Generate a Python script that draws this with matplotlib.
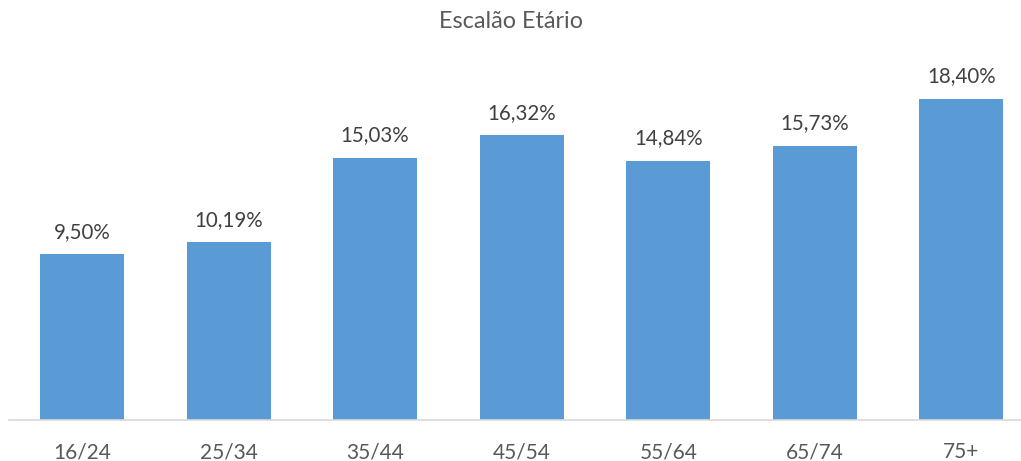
import matplotlib
matplotlib.use("Agg")
import matplotlib.pyplot as plt

# data
categories = ["16/24", "25/34", "35/44", "45/54", "55/64", "65/74", "75+"]
values = [9.50, 10.19, 15.03, 16.32, 14.84, 15.73, 18.40]
title = "Escalão Etário"

plt.rcParams['font.family'] = ['Lato', 'DejaVu Sans']

fig = plt.figure(figsize=(10.21, 4.61), dpi=100)
ax = fig.add_axes([8.7 / 1021, 41 / 461, 1026 / 1021, 349 / 461])

x = list(range(len(categories)))
bars = ax.bar(x, values, width=0.573, color="#5B9BD5", zorder=2)

for xi, v in zip(x, values):
    label = ("%.2f%%" % v).replace(".", ",")
    ax.annotate(label, (xi, v), xytext=(0, 9), textcoords="offset points",
                ha="center", va="bottom", fontsize=14.8, color="#404040")

ax.set_xlim(-0.5, len(categories) - 0.5)
ax.set_ylim(0, 20)
ax.set_xticks(x)
ax.set_xticklabels(categories, fontsize=15, color="#595959")
ax.tick_params(axis="x", length=0, pad=16)
ax.set_yticks([])

for s in ["top", "right", "left"]:
    ax.spines[s].set_visible(False)
ax.spines["bottom"].set_color("#D9D9D9")
ax.spines["bottom"].set_linewidth(1.2)

fig.text(0.5, 1 - 22 / 461, title, ha="center", va="center", fontsize=16.8, color="#595959")

fig.savefig("out.png", dpi=100)
